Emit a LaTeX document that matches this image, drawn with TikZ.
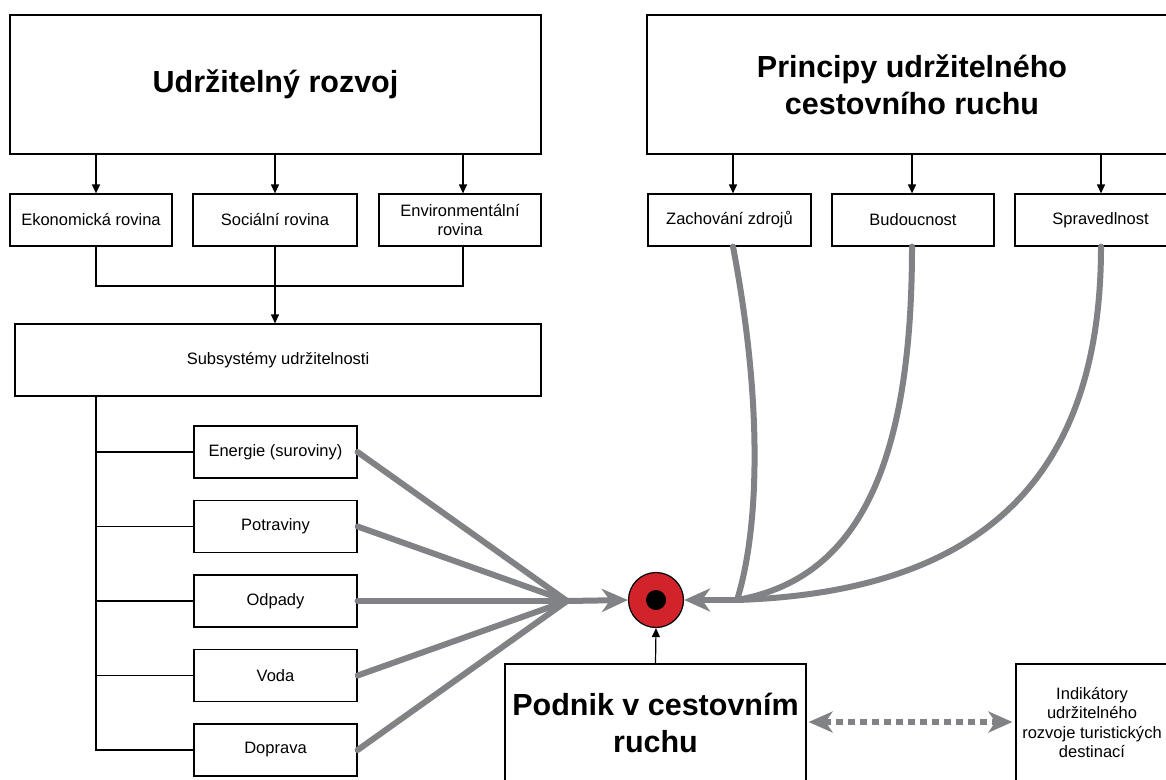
\documentclass[tikz,border=0pt]{standalone}
\usepackage{fontspec}
\setmainfont{Liberation Sans}
\usetikzlibrary{arrows.meta,calc}
\definecolor{ggray}{HTML}{808285}
\definecolor{cred}{HTML}{D2232A}
\tikzset{
  box/.style={draw=black, line width=1.2pt, fill=white, inner sep=2pt, align=center,
    font=\fontsize{16.5}{19.5}\selectfont},
  bigbox/.style={box, font=\fontsize{30.5}{37}\selectfont\bfseries},
  conn/.style={draw=black, line width=1.2pt},
  arr/.style={conn, -{Triangle[length=9pt,width=8pt]}},
  thick gray/.style={draw=ggray, line width=6pt, line cap=round},
  garr/.style={draw=ggray, line width=6pt, -{Stealth[length=26pt,width=23pt,inset=8pt]}},
}
\begin{document}
\begin{tikzpicture}[x=1pt,y=-1pt]
\useasboundingbox (0,0) rectangle (1166,779);
\fill[white] (0,0) rectangle (1166,779);
\clip (0,0) rectangle (1166,779);

% top boxes
\node[bigbox, minimum width=531pt, minimum height=139pt] (ur) at (275.5,84.5) {Udržitelný rozvoj};
\node[bigbox, minimum width=530pt, minimum height=139pt] (pr) at (912,84.5) {Principy udržitelného\\cestovního ruchu};

% second row
\node[box, minimum width=162pt, minimum height=52pt] (ek) at (91,220) {Ekonomická rovina};
\node[box, minimum width=164pt, minimum height=52pt] (so) at (275,220) {Sociální rovina};
\node[box, minimum width=162pt, minimum height=52pt] (en) at (460,220) {Environmentální\\rovina};
\node[box, minimum width=163pt, minimum height=52pt] (zz) at (729.5,220) {Zachování zdrojů};
\node[box, minimum width=162pt, minimum height=52pt] (bu) at (913,220) {Budoucnost};
\node[box, minimum width=171pt, minimum height=52pt] (sp) at (1100.5,220) {Spravedlnost};

\coordinate (xa) at (96,0);
\coordinate (xb) at (275,0);
\coordinate (xc) at (463,0);
\coordinate (xd) at (733,0);
\coordinate (xe) at (912,0);
\coordinate (xf) at (1101,0);

\draw[arr] (ur.south -| xa) -- (ek.north -| xa);
\draw[arr] (ur.south -| xb) -- (so.north -| xb);
\draw[arr] (ur.south -| xc) -- (en.north -| xc);
\draw[arr] (pr.south -| xd) -- (zz.north -| xd);
\draw[arr] (pr.south -| xe) -- (bu.north -| xe);
\draw[arr] (pr.south -| xf) -- (sp.north -| xf);

% subsystems
\node[box, minimum width=526pt, minimum height=72pt] (sub) at (278,360) {Subsystémy udržitelnosti};
\coordinate (jn) at (275,286);
\draw[conn] (ek.south -| xa) |- (jn) -| (en.south -| xc);
\draw[arr] (so.south -| xb) -- (sub.north -| xb);

\node[box, minimum width=163pt, minimum height=52pt] (b1) at (275.5,452) {Energie (suroviny)};
\node[box, minimum width=163pt, minimum height=52pt] (b2) at (275.5,526.5) {Potraviny};
\node[box, minimum width=163pt, minimum height=52pt] (b3) at (275.5,601) {Odpady};
\node[box, minimum width=163pt, minimum height=52pt] (b4) at (275.5,675.5) {Voda};
\node[box, minimum width=163pt, minimum height=52pt] (b5) at (275.5,750) {Doprava};

\coordinate (tb) at (96,750);
\draw[conn] (sub.south -| xa) -- (tb) -- (b5.west);
\foreach \b in {b1,b2,b3,b4} \draw[conn] (b1.west -| xa) |- (\b.west);

% target
\node[circle, draw=black, line width=1.2pt, fill=cred, minimum size=55pt, inner sep=0pt] (tg) at (656,600) {};
\node[circle, fill=black, minimum size=20pt, inner sep=0pt] (dot) at (tg.center) {};

% gray converging lines (left)
\coordinate (cl) at (567,601);
\foreach \b in {b1,b2,b3,b4,b5} \draw[thick gray] (\b.east) -- (cl);
\draw[garr] (cl) -- (tg.west);

% gray curves (right)
\coordinate (cr) at (737,600);
\draw[thick gray] (zz.south -| xd) .. controls (766,420) and (756,540) .. (cr);
\draw[thick gray] (bu.south -| xe) .. controls (912,480) and (850,580) .. (cr);
\draw[thick gray] (sp.south -| xf) .. controls (1101,480) and (980,592) .. (cr);
\draw[garr] (cr) -- (tg.east);

% bottom
\node[bigbox, minimum width=301pt, minimum height=117pt] (pod) at (655.5,722.5) {Podnik v cestovním\\ruchu};
\node[box, minimum width=152pt, minimum height=117pt] (ind) at (1092,722.5) {Indikátory\\udržitelného\\rozvoje turistických\\destinací};
\draw[arr] (pod.north) -- (tg.south);
\draw[draw=ggray, line width=6pt, dash pattern=on 7pt off 5pt,
  {Stealth[length=24pt,width=21pt,inset=7pt]}-{Stealth[length=24pt,width=21pt,inset=7pt]},
  shorten <=2pt, shorten >=3pt] (pod.east |- 0,722) -- (ind.west |- 0,722);
\end{tikzpicture}
\end{document}
